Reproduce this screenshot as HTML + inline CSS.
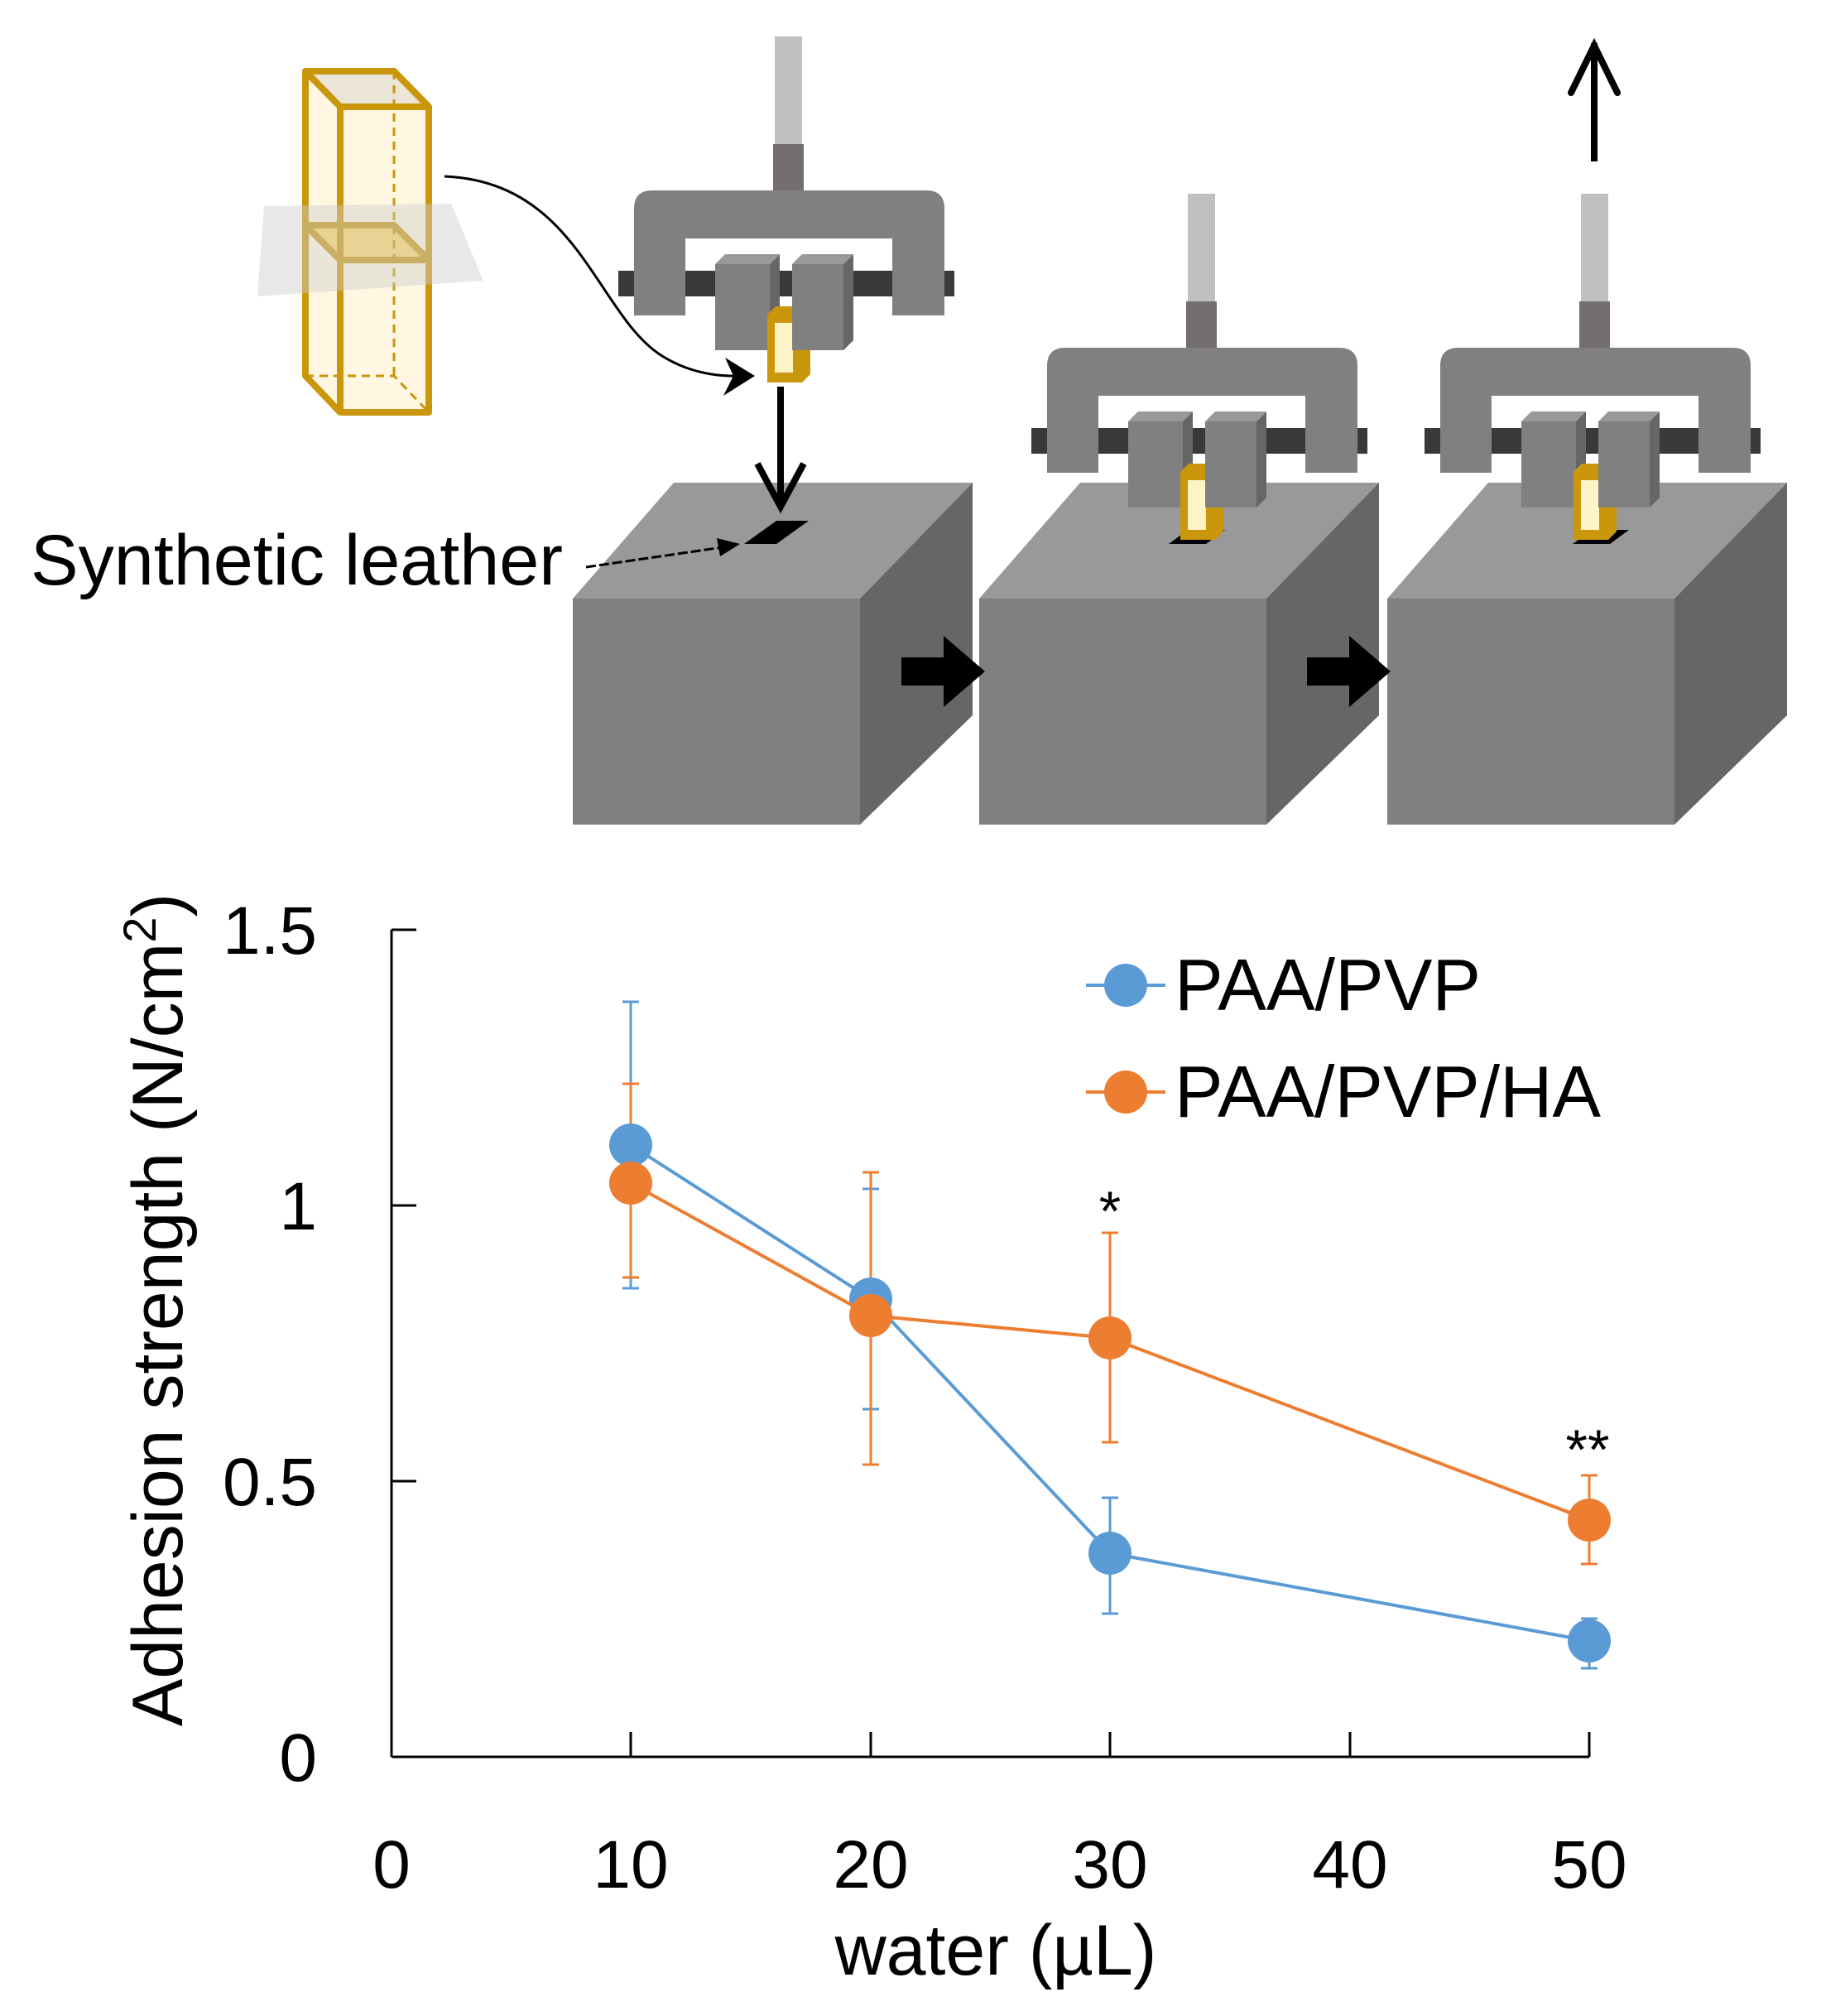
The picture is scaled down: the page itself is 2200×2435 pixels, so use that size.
<!DOCTYPE html>
<html><head><meta charset="utf-8"><style>html,body{margin:0;padding:0;background:#fff}svg{display:block}</style></head>
<body>
<svg width="2200" height="2435" viewBox="0 0 2200 2435" xmlns="http://www.w3.org/2000/svg" font-family="Liberation Sans, Arial, sans-serif">
<defs>
<g id="mach">
  <rect x="170" y="-186" width="33" height="132" fill="#c0c0c0"/>
  <rect x="168" y="-56" width="37" height="58" fill="#746f6e"/>
  <rect x="-19" y="97" width="406" height="31" fill="#3a3938"/>
  <path d="M0,151 V22 Q0,0 22,0 H353 Q375,0 375,22 V151 H312 V58 H62 V151 Z" fill="#808080"/>
  <polygon points="98,89 110,77 176,77 164,89" fill="#999"/>
  <polygon points="164,89 176,77 176,181 164,193" fill="#666"/>
  <rect x="98" y="89" width="66" height="104" fill="#808080"/>
  <polygon points="161,150 171,140 213,140 213,222 203,232 161,232" fill="#c9960c"/>
  <rect x="170" y="160" width="22" height="60" fill="#fff3c8"/>
  <polygon points="191,89 203,77 265,77 253,89" fill="#999"/>
  <polygon points="253,89 265,77 265,181 253,193" fill="#666"/>
  <rect x="191" y="89" width="62" height="104" fill="#808080"/>
</g>
<g id="box">
  <polygon points="122,0 483,0 347,140 0,140" fill="#999"/>
  <polygon points="347,140 483,0 483,281 347,413" fill="#666"/>
  <rect x="0" y="140" width="347" height="273" fill="#808080"/>
</g>
</defs>

<!-- cuvette -->
<g stroke="#c9960c" stroke-width="8" stroke-linejoin="round">
  <polygon points="369,86 476,86 518,129 518,498 411,498 369,454" fill="#fff6dc" fill-opacity="0.85"/>
  <polygon points="369,86 476,86 518,129 411,129" fill="#ece6d8"/>
  <polygon points="369,272 476,272 518,314 411,314" fill="#ffd966"/>
  <line x1="411" y1="129" x2="411" y2="498"/>
  <line x1="369" y1="86" x2="369" y2="454"/>
</g>
<g stroke="#c9960c" stroke-width="3" stroke-dasharray="10,7" fill="none">
  <line x1="476" y1="86" x2="476" y2="454"/>
  <polyline points="369,454 476,454 518,498"/>
</g>
<polygon points="319,249 545,246 584,339 311,358" fill="#ccc" opacity="0.45"/>
<path d="M537,213 C700,220 720,380 800,430 C840,455 880,455 905,454" fill="none" stroke="#000" stroke-width="3"/>
<polygon points="912,454 876,432 886,454 874,478" fill="#000"/>

<!-- boxes -->
<use href="#box" x="692" y="583"/>
<use href="#box" x="1183" y="583"/>
<use href="#box" x="1676" y="583"/>
<polygon points="899,657 938,629 977,629 938,657" fill="#000"/>
<polygon points="1412,657 1435,640 1480,640 1457,657" fill="#000"/>
<polygon points="1900,657 1923,640 1968,640 1945,657" fill="#000"/>

<!-- machines -->
<use href="#mach" x="766" y="230"/>
<use href="#mach" x="1265" y="420"/>
<use href="#mach" x="1740" y="420"/>

<!-- arrows -->
<line x1="943" y1="467" x2="943" y2="612" stroke="#000" stroke-width="8"/>
<polyline points="915,560 943,612 971,560" fill="none" stroke="#000" stroke-width="8" stroke-linejoin="miter"/>
<line x1="1926" y1="195" x2="1926" y2="52" stroke="#000" stroke-width="8"/>
<polyline points="1898,112 1926,55 1954,112" fill="none" stroke="#000" stroke-width="8" stroke-linecap="round"/>
<polygon points="1089,794 1140,794 1140,768 1190,811 1140,854 1140,828 1089,828" fill="#000"/>
<polygon points="1579,794 1630,794 1630,768 1680,811 1630,854 1630,828 1579,828" fill="#000"/>
<line x1="708" y1="685" x2="880" y2="660" stroke="#000" stroke-width="3" stroke-dasharray="12,4"/>
<polygon points="894,657 866,650 870,672" fill="#000"/>
<text x="37" y="706" font-size="86" fill="#000" textLength="643" lengthAdjust="spacingAndGlyphs">Synthetic leather</text>

<!-- chart axes -->
<g stroke="#000" stroke-width="3" fill="none">
  <line x1="473" y1="1123" x2="473" y2="2122"/>
  <line x1="473" y1="2122" x2="1920" y2="2122"/>
  <line x1="473" y1="1123" x2="503" y2="1123"/>
  <line x1="473" y1="1456" x2="503" y2="1456"/>
  <line x1="473" y1="1789" x2="503" y2="1789"/>
  <line x1="762" y1="2092" x2="762" y2="2122"/>
  <line x1="1052" y1="2092" x2="1052" y2="2122"/>
  <line x1="1341" y1="2092" x2="1341" y2="2122"/>
  <line x1="1631" y1="2092" x2="1631" y2="2122"/>
  <line x1="1920" y1="2092" x2="1920" y2="2122"/>
</g>
<g font-size="82" fill="#000" text-anchor="end">
  <text x="383" y="1152">1.5</text>
  <text x="383" y="1485">1</text>
  <text x="383" y="1818">0.5</text>
  <text x="383" y="2151">0</text>
</g>
<g font-size="82" fill="#000" text-anchor="middle">
  <text x="473" y="2280">0</text>
  <text x="762" y="2280">10</text>
  <text x="1052" y="2280">20</text>
  <text x="1341" y="2280">30</text>
  <text x="1631" y="2280">40</text>
  <text x="1920" y="2280">50</text>
  <text x="1203" y="2385" font-size="86">water (µL)</text>
  <text transform="translate(220,1582) rotate(-90)" font-size="86">Adhesion strength (N/cm<tspan font-size="56" dy="-32">2</tspan><tspan dy="32">)</tspan></text>
</g>

<!-- error bars -->
<g stroke="#5b9bd5" stroke-width="3">
  <line x1="762" y1="1210" x2="762" y2="1556"/><line x1="752" y1="1210" x2="772" y2="1210"/><line x1="752" y1="1556" x2="772" y2="1556"/>
  <line x1="1052" y1="1436" x2="1052" y2="1702"/><line x1="1042" y1="1436" x2="1062" y2="1436"/><line x1="1042" y1="1702" x2="1062" y2="1702"/>
  <line x1="1341" y1="1809" x2="1341" y2="1949"/><line x1="1331" y1="1809" x2="1351" y2="1809"/><line x1="1331" y1="1949" x2="1351" y2="1949"/>
  <line x1="1920" y1="1955" x2="1920" y2="2015"/><line x1="1910" y1="1955" x2="1930" y2="1955"/><line x1="1910" y1="2015" x2="1930" y2="2015"/>
</g>
<g stroke="#ed7d31" stroke-width="3">
  <line x1="762" y1="1309" x2="762" y2="1543"/><line x1="752" y1="1309" x2="772" y2="1309"/><line x1="752" y1="1543" x2="772" y2="1543"/>
  <line x1="1052" y1="1416" x2="1052" y2="1769"/><line x1="1042" y1="1416" x2="1062" y2="1416"/><line x1="1042" y1="1769" x2="1062" y2="1769"/>
  <line x1="1341" y1="1489" x2="1341" y2="1742"/><line x1="1331" y1="1489" x2="1351" y2="1489"/><line x1="1331" y1="1742" x2="1351" y2="1742"/>
  <line x1="1920" y1="1782" x2="1920" y2="1889"/><line x1="1910" y1="1782" x2="1930" y2="1782"/><line x1="1910" y1="1889" x2="1930" y2="1889"/>
</g>
<polyline points="762,1383 1052,1569 1341,1876 1920,1982" fill="none" stroke="#5b9bd5" stroke-width="4"/>
<g fill="#5b9bd5"><circle cx="762" cy="1383" r="26"/><circle cx="1052" cy="1569" r="26"/><circle cx="1341" cy="1876" r="26"/><circle cx="1920" cy="1982" r="26"/></g>
<polyline points="762,1429 1052,1589 1341,1616 1920,1836" fill="none" stroke="#ed7d31" stroke-width="4"/>
<g fill="#ed7d31"><circle cx="762" cy="1429" r="26"/><circle cx="1052" cy="1589" r="26"/><circle cx="1341" cy="1616" r="26"/><circle cx="1920" cy="1836" r="26"/></g>
<g font-size="68" fill="#000" text-anchor="middle">
  <text x="1341" y="1486">*</text>
  <text x="1918" y="1774">**</text>
</g>

<!-- legend -->
<line x1="1312" y1="1190" x2="1408" y2="1190" stroke="#5b9bd5" stroke-width="4"/>
<circle cx="1360" cy="1190" r="26" fill="#5b9bd5"/>
<text x="1419" y="1220" font-size="88" fill="#000">PAA/PVP</text>
<line x1="1312" y1="1319" x2="1408" y2="1319" stroke="#ed7d31" stroke-width="4"/>
<circle cx="1360" cy="1319" r="26" fill="#ed7d31"/>
<text x="1419" y="1349" font-size="88" fill="#000" textLength="515" lengthAdjust="spacingAndGlyphs">PAA/PVP/HA</text>
</svg>
</body></html>
